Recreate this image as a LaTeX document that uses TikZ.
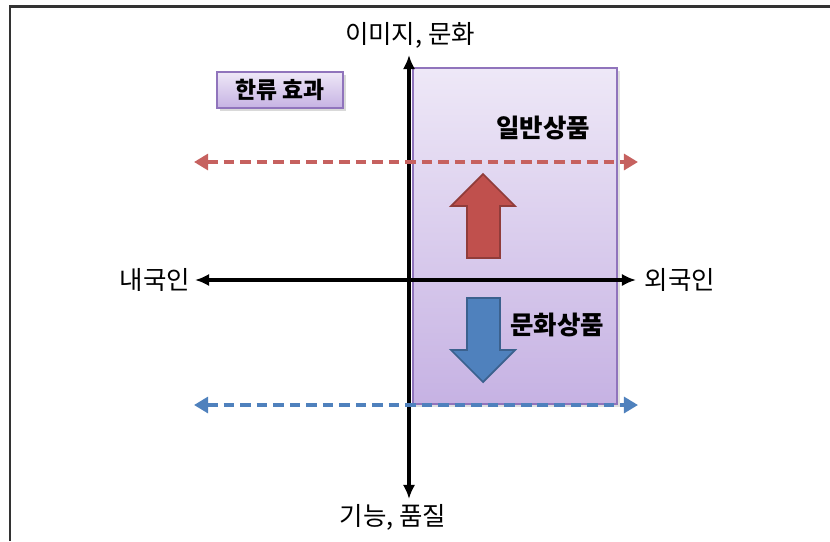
\documentclass[tikz,border=0pt]{standalone}
\usepackage{fontspec}
\setmainfont{Noto Sans CJK KR}
\usetikzlibrary{arrows.meta,shadows}
\definecolor{hlred}{HTML}{C0504D}
\definecolor{hlblue}{HTML}{4F81BD}
\definecolor{hlpurple}{HTML}{9074BC}
\definecolor{hltop}{HTML}{EEE8F7}
\definecolor{hlbottom}{HTML}{C6B2E3}

\tikzset{
  axis/.style={line width=2.1pt, {Latex[length=8pt,width=7pt]}-{Latex[length=8pt,width=7pt]}},
  trend/.style={line width=2.7pt, dash pattern=on 6pt off 3.4pt,
    {Triangle[length=8pt,width=9pt]}-{Triangle[length=8pt,width=9pt]}},
  axislabel/.style={font=\fontsize{14.5}{16}\selectfont},
  goodslabel/.style={font=\fontsize{14.5}{16}\selectfont\bfseries}
}

\begin{document}
\begin{tikzpicture}[x=0.02cm, y=-0.02cm]
  % canvas in pixels, y running down; only the top and left frame lines show
  \useasboundingbox (0,0) rectangle (830,541);
  \draw[black!80, line width=1.2pt] (10,541) -- (10,6.5) -- (830,6.5);

  % the foreign-market region right of the axis
  \shade[top color=hltop, bottom color=hlbottom, draw=hlpurple, line width=0.6pt,
         drop shadow={opacity=0.25, shadow xshift=1.5pt, shadow yshift=-1.5pt}]
    (413,68) rectangle (617,404);

  % label box top left
  \node[draw=hlpurple, line width=0.8pt, top color=hltop, bottom color=hlbottom,
        minimum width=126*0.02cm, minimum height=36*0.02cm, inner sep=0pt,
        font=\fontsize{13}{15}\selectfont\bfseries,
        drop shadow={opacity=0.3, shadow xshift=1.5pt, shadow yshift=-1.5pt}]
    (effect) at (280,90) {한류 효과};

  % block arrows: up for general goods, down for cultural goods
  \filldraw[fill=hlred, draw=hlred!75!black, line width=1pt]
    (483,174) -- (515,206) -- (500,206) -- (500,258) -- (467,258) -- (467,206)
    -- (451,206) -- cycle;
  \filldraw[fill=hlblue, draw=hlblue!75!black, line width=1pt]
    (467,298) -- (500,298) -- (500,350) -- (515,350) -- (483,382) -- (451,350)
    -- (467,350) -- cycle;

  % axes
  \coordinate (vtop) at (409,55);
  \coordinate (vbot) at (409,499);
  \coordinate (hleft) at (195,280);
  \coordinate (hright) at (636,280);
  \draw[axis] (vbot) -- (vtop);
  \draw[axis] (hleft) -- (hright);

  % dashed trend lines
  \coordinate (rleft) at (194,162);
  \coordinate (rright) at (638,162);
  \coordinate (bleft) at (194,405);
  \coordinate (bright) at (638,405);
  \draw[trend, hlred!90!white] (rleft) -- (rright);
  \draw[trend, hlblue] (bleft) -- (bright);

  % labels
  \node[axislabel] (image) at (410,35) {이미지, 문화};
  \node[axislabel] (quality) at (393,517) {기능, 품질};
  \node[axislabel] (domestic) at (155,280) {내국인};
  \node[axislabel] (foreign) at (680,280) {외국인};
  \node[goodslabel] (general) at (543,128) {일반상품};
  \node[goodslabel] (cultural) at (557,325) {문화상품};
\end{tikzpicture}
\end{document}
